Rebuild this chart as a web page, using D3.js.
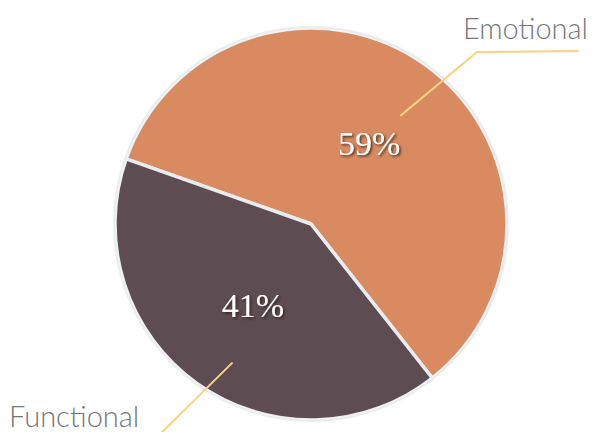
<!DOCTYPE html>
<html>
<head>
<meta charset="utf-8">
<script src="https://cdn.jsdelivr.net/npm/d3@7"></script>
<style>
  html, body { margin: 0; padding: 0; background: #ffffff; }
  svg { display: block; }
</style>
</head>
<body>
<div id="chart"></div>
<script>
// ---- data ----
const categories = ["Emotional", "Functional"];
const values = [59, 41];
const valueLabels = ["59%", "41%"];

// ---- layout / style ----
const W = 592, H = 432;
const cx = 311, cy = 224, R = 196;
const startDeg = -70.6;
const colors = ["#d98a60", "#5d4c52"];
const labelRadius = 100;
// leader lines: start point (polar offset inside slice), elbow and end, text anchor
const leaders = [
  { angOff: 4, r: 141, pts: [[477, 52], [578, 51]], tx: 588, ty: 39, anchor: "end" },
  { angOff: -6, r: 160, pts: [[148, 446]], tx: 9, ty: 427, anchor: "start" }
];

const svg = d3.select("#chart").append("svg")
  .attr("width", W).attr("height", H);

const defs = svg.append("defs");
const sh = defs.append("filter").attr("id", "txtShadow")
  .attr("x", "-20%").attr("y", "-20%").attr("width", "140%").attr("height", "140%");
sh.append("feDropShadow").attr("dx", 1.5).attr("dy", 1.5).attr("stdDeviation", 1)
  .attr("flood-color", "#2a1a14").attr("flood-opacity", 0.85);
const soft = defs.append("filter").attr("id", "soft")
  .attr("x", "-10%").attr("y", "-10%").attr("width", "120%").attr("height", "120%");
soft.append("feGaussianBlur").attr("stdDeviation", 1);

const data = categories.map((c, i) => ({ cat: c, value: values[i], label: valueLabels[i], i }));

const pie = d3.pie().value(d => d.value).sort(null)
  .startAngle(startDeg * Math.PI / 180)
  .endAngle(startDeg * Math.PI / 180 + 2 * Math.PI);
const arcs = pie(data);

const arc = d3.arc().innerRadius(0).outerRadius(R);
const labelArc = d3.arc().innerRadius(labelRadius).outerRadius(labelRadius);

const g = svg.append("g").attr("transform", `translate(${cx},${cy})`);

// soft outer edge
g.append("circle").attr("r", R + 1).attr("fill", "#e3e5e6").attr("filter", "url(#soft)");

g.selectAll("path.slice").data(arcs).enter().append("path")
  .attr("class", "slice")
  .attr("d", arc)
  .attr("fill", d => colors[d.data.i])
  .attr("stroke", "#e8ecee")
  .attr("stroke-width", 3.5)
  .attr("stroke-linejoin", "round");

// cover outer stroke with a subtle edge
g.append("circle").attr("r", R - 0.5).attr("fill", "none")
  .attr("stroke", "#ffffff").attr("stroke-opacity", 0.35).attr("stroke-width", 1.5);

// percent labels
g.selectAll("text.pct").data(arcs).enter().append("text")
  .attr("class", "pct")
  .attr("transform", d => {
    const c = labelArc.centroid(d);
    return `translate(${c[0]},${c[1]})`;
  })
  .attr("text-anchor", "middle")
  .attr("dy", "0.35em")
  .attr("font-family", "'Liberation Serif', 'Times New Roman', serif")
  .attr("font-size", 34)
  .attr("fill", "#ffffff")
  .attr("filter", "url(#txtShadow)")
  .text(d => d.data.label);

// leader lines and category labels
arcs.forEach((d, k) => {
  const L = leaders[k];
  const mid = (d.startAngle + d.endAngle) / 2 + L.angOff * Math.PI / 180;
  const sx = cx + L.r * Math.sin(mid), sy = cy - L.r * Math.cos(mid);
  const pts = [[sx, sy]].concat(L.pts);
  svg.append("path")
    .attr("d", d3.line()(pts))
    .attr("fill", "none")
    .attr("stroke", "#f7d37f")
    .attr("stroke-width", 2)
    .attr("stroke-linecap", "round");
  svg.append("text")
    .attr("x", L.tx).attr("y", L.ty)
    .attr("text-anchor", L.anchor)
    .attr("font-family", "Lato, 'DejaVu Sans', sans-serif")
    .attr("font-weight", 300)
    .attr("font-size", 29)
    .attr("fill", "#777777")
    .text(d.data.cat);
});
</script>
</body>
</html>
